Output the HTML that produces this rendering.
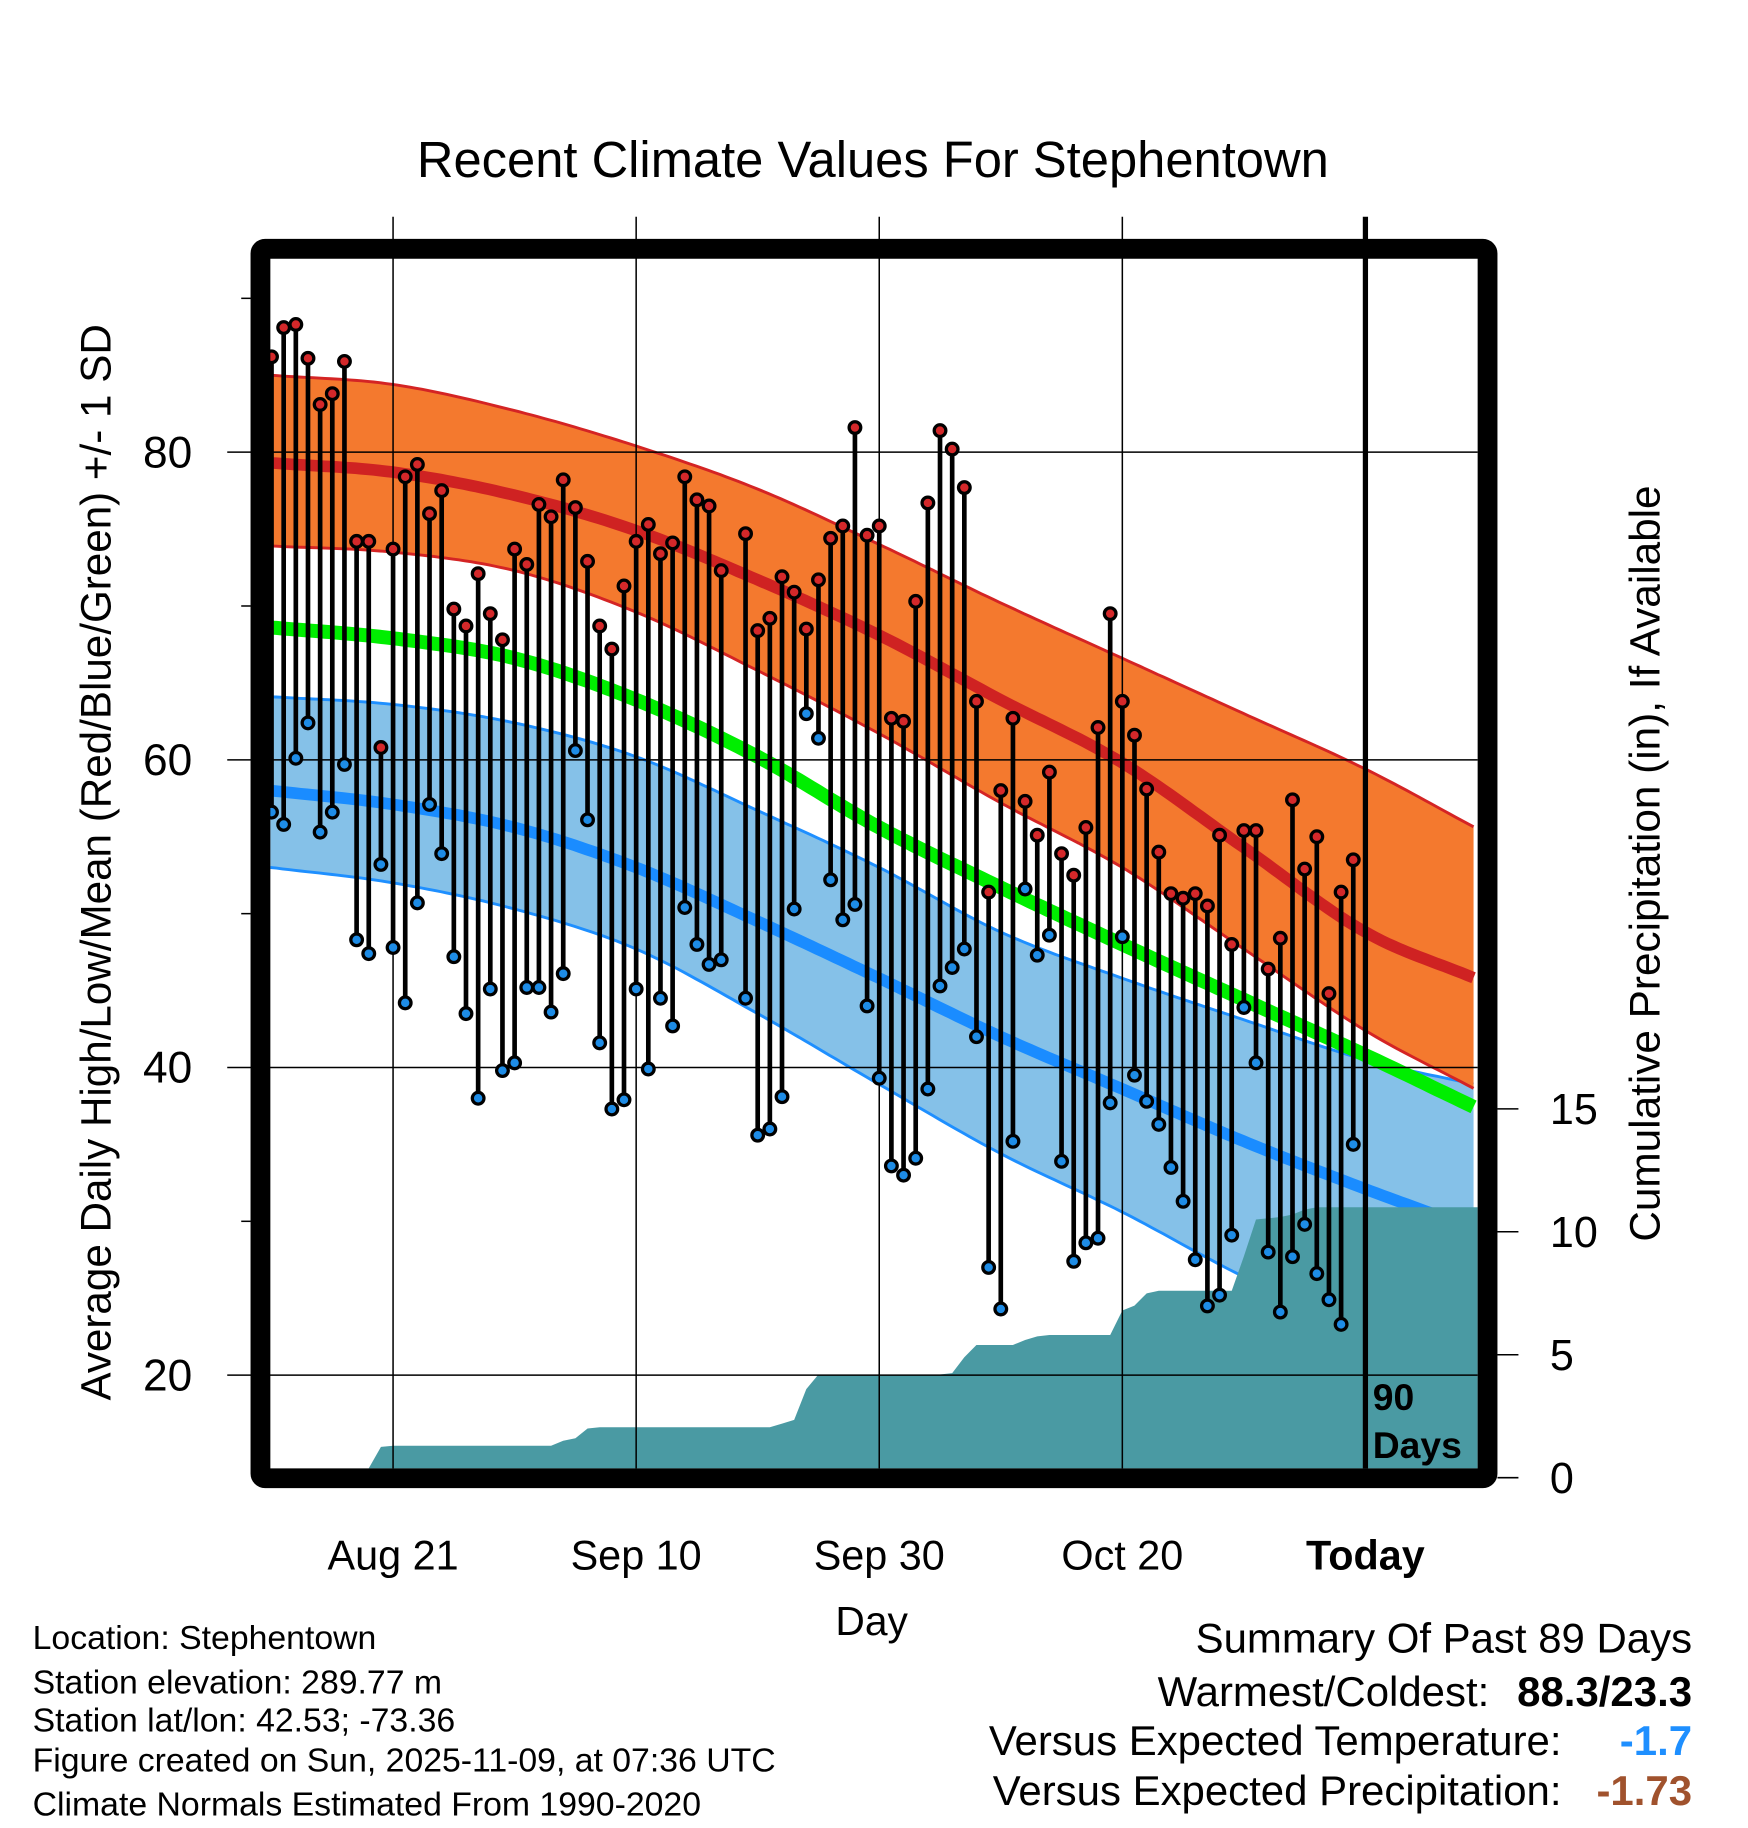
<!DOCTYPE html>
<html><head><meta charset="utf-8">
<style>
html,body{margin:0;padding:0;background:#fff;}
svg{display:block;font-family:"Liberation Sans",Arial,sans-serif;}
</style></head>
<body>
<svg id="chart" width="1748" height="1828" viewBox="0 0 1500 1568.6" preserveAspectRatio="none" xmlns="http://www.w3.org/2000/svg">
<rect x="0" y="0" width="1500" height="1568.6" fill="#fff"/>
<text x="749" y="152" font-size="43.5" text-anchor="middle">Recent Climate Values For Stephentown</text>
<g id="bands"></g>
<g id="precip"></g>
<g id="grid"></g>
<g id="stems"></g>
<g id="frame"></g>
<g id="axes"></g>
<text transform="translate(95,740) rotate(-90)" font-size="36.2" text-anchor="middle">Average Daily High/Low/Mean (Red/Blue/Green) +/- 1 SD</text>
<text transform="translate(1424,741) rotate(-90)" font-size="36.3" text-anchor="middle">Cumulative Precipitation (in), If Available</text>
<text x="748" y="1403" font-size="35" text-anchor="middle">Day</text>
<text x="1178" y="1210" font-size="32" font-weight="bold">90</text>
<text x="1178" y="1251" font-size="32" font-weight="bold">Days</text>
<g font-size="29">
<text x="28" y="1415">Location: Stephentown</text>
<text x="28" y="1453">Station elevation: 289.77 m</text>
<text x="28" y="1486">Station lat/lon: 42.53; -73.36</text>
<text x="28" y="1520">Figure created on Sun, 2025-11-09, at 07:36 UTC</text>
<text x="28" y="1558">Climate Normals Estimated From 1990-2020</text>
</g>
<g font-size="36">
<text x="1452" y="1418" text-anchor="end">Summary Of Past 89 Days</text>
<text x="1278" y="1464" text-anchor="end">Warmest/Coldest:</text>
<text x="1452" y="1464" text-anchor="end" font-weight="bold">88.3/23.3</text>
<text x="1340" y="1506" text-anchor="end">Versus Expected Temperature:</text>
<text x="1452" y="1506" text-anchor="end" font-weight="bold" fill="#1e8fff">-1.7</text>
<text x="1340" y="1549" text-anchor="end">Versus Expected Precipitation:</text>
<text x="1452" y="1549" text-anchor="end" font-weight="bold" fill="#a0522d">-1.73</text>
</g>
</svg>
<script>
// ---- data ----
var highs = [86.2,88.1,88.3,86.1,83.1,83.8,85.9,74.2,74.2,60.8,73.7,78.4,79.2,76.0,77.5,69.8,68.7,72.1,69.5,67.8,73.7,72.7,76.6,75.8,78.2,76.4,72.9,68.7,67.2,71.3,74.2,75.3,73.4,74.1,78.4,76.9,76.5,72.3,null,74.7,68.4,69.2,71.9,70.9,68.5,71.7,74.4,75.2,81.6,74.6,75.2,62.7,62.5,70.3,76.7,81.4,80.2,77.7,63.8,51.4,58.0,62.7,57.3,55.1,59.2,53.9,52.5,55.6,62.1,69.5,63.8,61.6,58.1,54.0,51.3,51.0,51.3,50.5,55.1,48.0,55.4,55.4,46.4,48.4,57.4,52.9,55.0,44.8,51.4,53.5];
var lows = [56.6,55.8,60.1,62.4,55.3,56.6,59.7,48.3,47.4,53.2,47.8,44.2,50.7,57.1,53.9,47.2,43.5,38.0,45.1,39.8,40.3,45.2,45.2,43.6,46.1,60.6,56.1,41.6,37.3,37.9,45.1,39.9,44.5,42.7,50.4,48.0,46.7,47.0,null,44.5,35.6,36.0,38.1,50.3,63.0,61.4,52.2,49.6,50.6,44.0,39.3,33.6,33.0,34.1,38.6,45.3,46.5,47.7,42.0,27.0,24.3,35.2,51.6,47.3,48.6,33.9,27.4,28.6,28.9,37.7,48.5,39.5,37.8,36.3,33.5,31.3,27.5,24.5,25.2,29.1,43.9,40.3,28.0,24.1,27.7,29.8,26.6,24.9,23.3,35.0];
var precip = [0,0,0,0,0,0,0,0,0,1.25,1.3,1.3,1.3,1.3,1.3,1.3,1.3,1.3,1.3,1.3,1.3,1.3,1.3,1.3,1.5,1.6,2.0,2.05,2.05,2.05,2.05,2.05,2.05,2.05,2.05,2.05,2.05,2.05,2.05,2.05,2.05,2.05,2.2,2.35,3.6,4.2,4.2,4.2,4.2,4.2,4.2,4.2,4.2,4.2,4.2,4.2,4.25,4.9,5.4,5.4,5.4,5.4,5.6,5.75,5.8,5.8,5.8,5.8,5.8,5.8,6.8,7.0,7.5,7.6,7.6,7.6,7.6,7.6,7.6,7.6,9.0,10.5,10.55,10.6,10.7,10.9,11.0,11.0,11.0,11.0];
var normDays = [0,10,20,30,40,50,60,70,80,90,99];
var normHighUpper = [85.0,84.4,82.7,80.4,77.6,74.0,70.2,66.6,63.0,59.4,55.6];
var normHigh = [79.3,78.7,77.2,74.9,71.7,68.1,63.9,59.8,54.3,48.8,45.8];
var normHighLower = [73.9,73.5,72.3,69.6,65.8,61.7,57.2,53.0,47.7,42.4,38.6];
var normMean = [68.6,67.9,66.6,63.9,60.2,55.6,51.7,48.0,44.4,40.8,37.4];
var normLowUpper = [64.1,63.6,62.4,60.2,56.7,53.0,48.8,45.8,43.1,40.5,38.9];
var normLow = [58.0,57.1,55.6,53.0,49.5,45.8,42.0,38.6,35.2,32.1,29.5];
var normLowLower = [53.0,52.0,50.3,47.7,43.5,38.9,34.4,30.6,26.4,23.0,20.0];
var yTicks = [20,40,60,80];
var yMinorTicks = [30,50,70,90];
var xTickDays = [10,30,50,70,90];
var xTickLabels = ["Aug 21","Sep 10","Sep 30","Oct 20","Today"];
var pTicks = [0,5,10,15];

// ---- scales ----
var PL=232, PR=1268, PT=222, PB=1260;
function X(d){ return 233 + 10.43*d; }
function Y(t){ return 652 - (t-60)*13.2; }
function P(p){ return 1268 - p*21.1; }
var NS="http://www.w3.org/2000/svg";
function mk(tag, attrs, parent){ var e=document.createElementNS(NS,tag); for(var k in attrs) e.setAttribute(k,attrs[k]); parent.appendChild(e); return e; }
function interp(arr, d){
  var n=normDays.length;
  function tan(i){
    if(i<=0) return (arr[1]-arr[0])/(normDays[1]-normDays[0]);
    if(i>=n-1) return (arr[n-1]-arr[n-2])/(normDays[n-1]-normDays[n-2]);
    return (arr[i+1]-arr[i-1])/(normDays[i+1]-normDays[i-1]);
  }
  for(var i=0;i<n-1;i++){
    if(d<=normDays[i+1]){
      var h=normDays[i+1]-normDays[i], t=(d-normDays[i])/h;
      var t2=t*t, t3=t2*t;
      return (2*t3-3*t2+1)*arr[i]+(t3-2*t2+t)*h*tan(i)+(-2*t3+3*t2)*arr[i+1]+(t3-t2)*h*tan(i+1);
    }
  }
  return arr[n-1];
}
var dEnd = (PR-233)/10.43;
function linePts(arr){ var pts=[]; for(var d=-0.1; d<=dEnd; d+=0.5){ pts.push([Math.max(X(d),PL), Y(interp(arr,Math.max(d,0)))]); } return pts; }
function pstr(pts){ return pts.map(function(p){return p[0].toFixed(1)+","+p[1].toFixed(1);}).join(" "); }

var bands=document.getElementById('bands');
function band(up, lo, fill, edge, name){
  var a=linePts(up), b=linePts(lo).reverse();
  var poly=mk('polygon',{points:pstr(a.concat(b)),fill:fill,stroke:'none'},bands);
  
  
  var e1=mk('polyline',{points:pstr(a),fill:'none',stroke:edge,'stroke-width':2.5},bands);
  
  
  var e2=mk('polyline',{points:pstr(linePts(lo)),fill:'none',stroke:edge,'stroke-width':2.5},bands);
  
  
}
function line(arr, color, w, name){
  var l=mk('polyline',{points:pstr(linePts(arr)),fill:'none',stroke:color,'stroke-width':w},bands);
  
  
}
band(normLowUpper, normLowLower, '#85c1e8', '#1e8fff', 'low-sd-band');
line(normLow, '#1a8cff', 10, 'normal-low-line');
line(normMean, '#00ee00', 12, 'normal-mean-line');
band(normHighUpper, normHighLower, '#f4792e', '#d42424', 'high-sd-band');
line(normHigh, '#cf2222', 10, 'normal-high-line');

// precip area
var pg=document.getElementById('precip');
var pp=[[PL,PB]];
for(var i=0;i<precip.length;i++){ pp.push([X(i), Math.min(P(precip[i]),PB)]); }
pp.push([PR, Math.min(P(precip[precip.length-1]),PB)]);
pp.push([PR,PB]);
var parea=mk('polygon',{points:pstr(pp),fill:'#4a9aa3'},pg);



// grid
var grid=document.getElementById('grid');
yTicks.forEach(function(t){
  var g=mk('line',{x1:195,x2:PR,y1:Y(t),y2:Y(t),stroke:'#000','stroke-width':1.3},grid);
  
  
});
xTickDays.forEach(function(d,i){
  var today = xTickLabels[i]==='Today';
  var g=mk('line',{x1:X(d),x2:X(d),y1:186,y2:PB,stroke:'#000','stroke-width':today?4.5:1.3},grid);
  
  
});

// stems + points
var sg=document.getElementById('stems');
for(var i=0;i<highs.length;i++){
  if(highs[i]===null) continue;
  var s=mk('line',{x1:X(i),x2:X(i),y1:Y(highs[i]),y2:Y(lows[i]),stroke:'#000','stroke-width':4},sg);
  
  
}
for(var i=0;i<highs.length;i++){
  if(highs[i]===null) continue;
  var h=mk('circle',{cx:X(i),cy:Y(highs[i]),r:5,fill:'#d4282a',stroke:'#000','stroke-width':2.8},sg);
  
  
  var l=mk('circle',{cx:X(i),cy:Y(lows[i]),r:5,fill:'#1e8ce6',stroke:'#000','stroke-width':2.8},sg);
  
  
}

// frame
var fr=mk('rect',{x:223.5,y:213.5,width:1053,height:1055,rx:4,fill:'none',stroke:'#000','stroke-width':17},document.getElementById('frame'));



// axes
var ax=document.getElementById('axes');
yTicks.forEach(function(t){
  var tx=mk('text',{x:165,y:Y(t)+13,'font-size':38,'text-anchor':'end'},ax);
  tx.textContent=t;
  
  
});
yMinorTicks.forEach(function(t){
  var m=mk('line',{x1:207,x2:215,y1:Y(t),y2:Y(t),stroke:'#000','stroke-width':1.3},ax);
  
  
});
xTickDays.forEach(function(d,i){
  var tx=mk('text',{x:X(d),y:1347,'font-size':35.5,'text-anchor':'middle'},ax);
  if(xTickLabels[i]==='Today') tx.setAttribute('font-weight','bold');
  tx.textContent=xTickLabels[i];
  
  
});
pTicks.forEach(function(p){
  var t=mk('line',{x1:1285,x2:1303,y1:P(p),y2:P(p),stroke:'#000','stroke-width':1.3},ax);
  
  
  var tx=mk('text',{x:1330,y:P(p)+13,'font-size':37},ax);
  tx.textContent=p;
  
  
});
</script>
</body></html>
